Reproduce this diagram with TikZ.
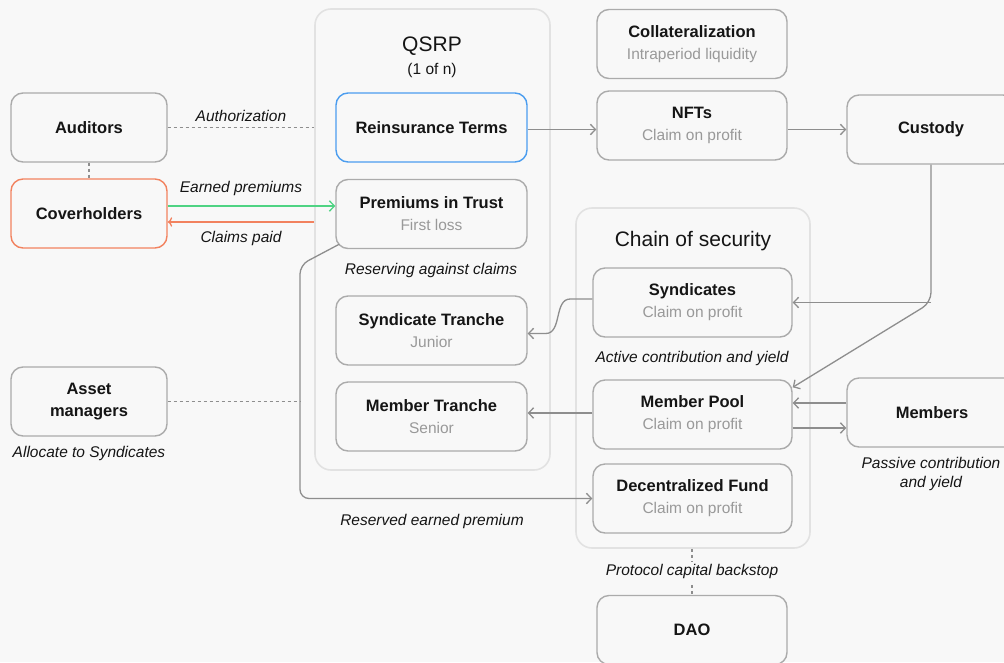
\documentclass[tikz,border=0pt]{standalone}
\usepackage{fontspec}
\setmainfont{Liberation Sans}
\usetikzlibrary{arrows.meta}
\definecolor{bggray}{HTML}{F8F8F8}
\definecolor{boxgray}{HTML}{ABABAB}
\definecolor{framegray}{HTML}{E2E2E2}
\definecolor{linegray}{HTML}{8E8E8E}
\definecolor{subgray}{HTML}{999999}
\definecolor{inkblack}{HTML}{151515}
\definecolor{paidorange}{HTML}{F2825F}
\definecolor{earngreen}{HTML}{4FD383}
\definecolor{termsblue}{HTML}{4B9DEF}
\newcommand{\boxlabel}[2]{#1\\{\normalfont\color{subgray}\fontsize{15.5}{22}\selectfont #2}}

\begin{document}
\begin{tikzpicture}[x=1pt,y=-1pt,
  box/.style={draw=boxgray,line width=1.4pt,rounded corners=12pt,fill=bggray,
    minimum width=156pt,minimum height=69pt,align=center,inner sep=0pt,
    text=inkblack,font=\fontsize{16.5}{22}\selectfont\bfseries},
  frame/.style={draw=framegray,line width=1.6pt,rounded corners=16pt},
  title/.style={text=inkblack,font=\fontsize{21}{24}\selectfont},
  note/.style={text=inkblack,inner sep=1pt,font=\fontsize{15.5}{19}\selectfont\itshape},
  link/.style={draw=linegray,line width=1.3pt,-{Straight Barb[length=5pt,width=10.5pt]}},
  dashedlink/.style={draw=linegray,line width=1.3pt,dash pattern=on 3pt off 3pt}]
\fill[bggray] (0,0) rectangle (1004,662);
\useasboundingbox (0,0) rectangle (1004,662);
%
% containers
%
\node[frame,minimum width=235pt,minimum height=461pt] (qsrp) at (432.5,239.5) {};
\node[title] (qsrptitle) at (432,46) {QSRP};
\node[note,font=\fontsize{15.5}{19}\selectfont] (qsrpsub) at (432,70) {(1 of n)};
\node[frame,minimum width=234pt,minimum height=340pt] (chain) at (693,378) {};
\node[title] (chaintitle) at (693,241) {Chain of security};
%
% left column
%
\node[box] (aud) at (89,127.5) {Auditors};
\node[box,draw=paidorange] (cov) at (89,213.5) {Coverholders};
\node[box] (asset) at (89,401.5) {Asset\\managers};
\node[note] (allocate) at (89,453) {Allocate to Syndicates};
%
% QSRP
%
\node[box,draw=termsblue,minimum width=191pt] (reins) at (431.5,127.5) {Reinsurance Terms};
\node[box,minimum width=191pt] (prem) at (431.5,214) {\boxlabel{Premiums in Trust}{First loss}};
\node[note] (reserving) at (431,270) {Reserving against claims};
\node[box,minimum width=191pt] (synt) at (431.5,330.5) {\boxlabel{Syndicate Tranche}{Junior}};
\node[box,minimum width=191pt] (memt) at (431.5,416.5) {\boxlabel{Member Tranche}{Senior}};
%
% top right
%
\node[box,minimum width=190pt] (coll) at (692,44) {\boxlabel{Collateralization}{Intraperiod liquidity}};
\node[box,minimum width=190pt] (nft) at (692,125.5) {\boxlabel{NFTs}{Claim on profit}};
\node[box,minimum width=168pt] (cust) at (931,129.5) {Custody};
%
% chain of security
%
\node[box,minimum width=199pt] (synd) at (692.5,302.5) {\boxlabel{Syndicates}{Claim on profit}};
\node[note] (active) at (692,358) {Active contribution and yield};
\node[box,minimum width=199pt] (pool) at (692.5,414.5) {\boxlabel{Member Pool}{Claim on profit}};
\node[box,minimum width=199pt] (fund) at (692.5,498.5) {\boxlabel{Decentralized Fund}{Claim on profit}};
\node[box,minimum width=190pt] (dao) at (692,630) {DAO};
\node[box,minimum width=170pt] (mem) at (932,412.5) {Members};
\node[note,align=center] (passive) at (931,474) {Passive contribution\\and yield};
%
% connectors
%
\draw[dashedlink] (aud.east) -- node[note,above=4pt] (authlbl) {Authorization} (aud.east -| qsrp.west);
\draw[dashedlink] (aud.south) -- (cov.north);
\node[note] (earnlbl) at (241,188) {Earned premiums};
\node[note] (paidlbl) at (241,238) {Claims paid};
\draw[link,draw=earngreen] ([yshift=7.5pt]cov.east) -- ([yshift=7.5pt]cov.east -| prem.west);
\draw[link,draw=paidorange,<-] ([yshift=-8.5pt]cov.east) -- ([yshift=-8.5pt]cov.east -| qsrp.west);
\draw[link] (reins.east |- cust) -- (nft.west |- cust);
\draw[link] (nft.east |- cust) -- (cust.west);
\draw[link,rounded corners=10pt] (cust.south) -- (cust.south |- synd.east) -- ([yshift=-8pt]pool.north east);
\draw[link] (cust.south |- synd.east) -- (synd.east);
\draw[link] ([yshift=9.5pt]mem.west) -- ([yshift=9.5pt]mem.west -| pool.east);
\draw[link] ([yshift=-15.5pt]mem.west -| pool.east) -- ([yshift=-15.5pt]mem.west);
\draw[link] ([yshift=3.5pt]synd.west) -- ++(-22,0) to[out=180,in=0] ([xshift=18pt,yshift=-3pt]synt.east) -- ([yshift=-3pt]synt.east);
\draw[link] ([yshift=1.5pt]pool.west) -- ([yshift=1.5pt]pool.west -| memt.east);
\coordinate (drop) at (300,265);
\draw[link,rounded corners=9pt] ([xshift=4pt,yshift=5pt]prem.south west) -- (drop) -- (drop |- fund.west) -- (fund.west);
\node[note] (reserved) at (432,521) {Reserved earned premium};
\draw[dashedlink] (asset.east) -- (drop |- asset.east);
\draw[dashedlink] (dao.north |- chain.south) -- node[note,fill=bggray,inner sep=3pt] (backstop) {Protocol capital backstop} (dao.north);
\end{tikzpicture}
\end{document}
